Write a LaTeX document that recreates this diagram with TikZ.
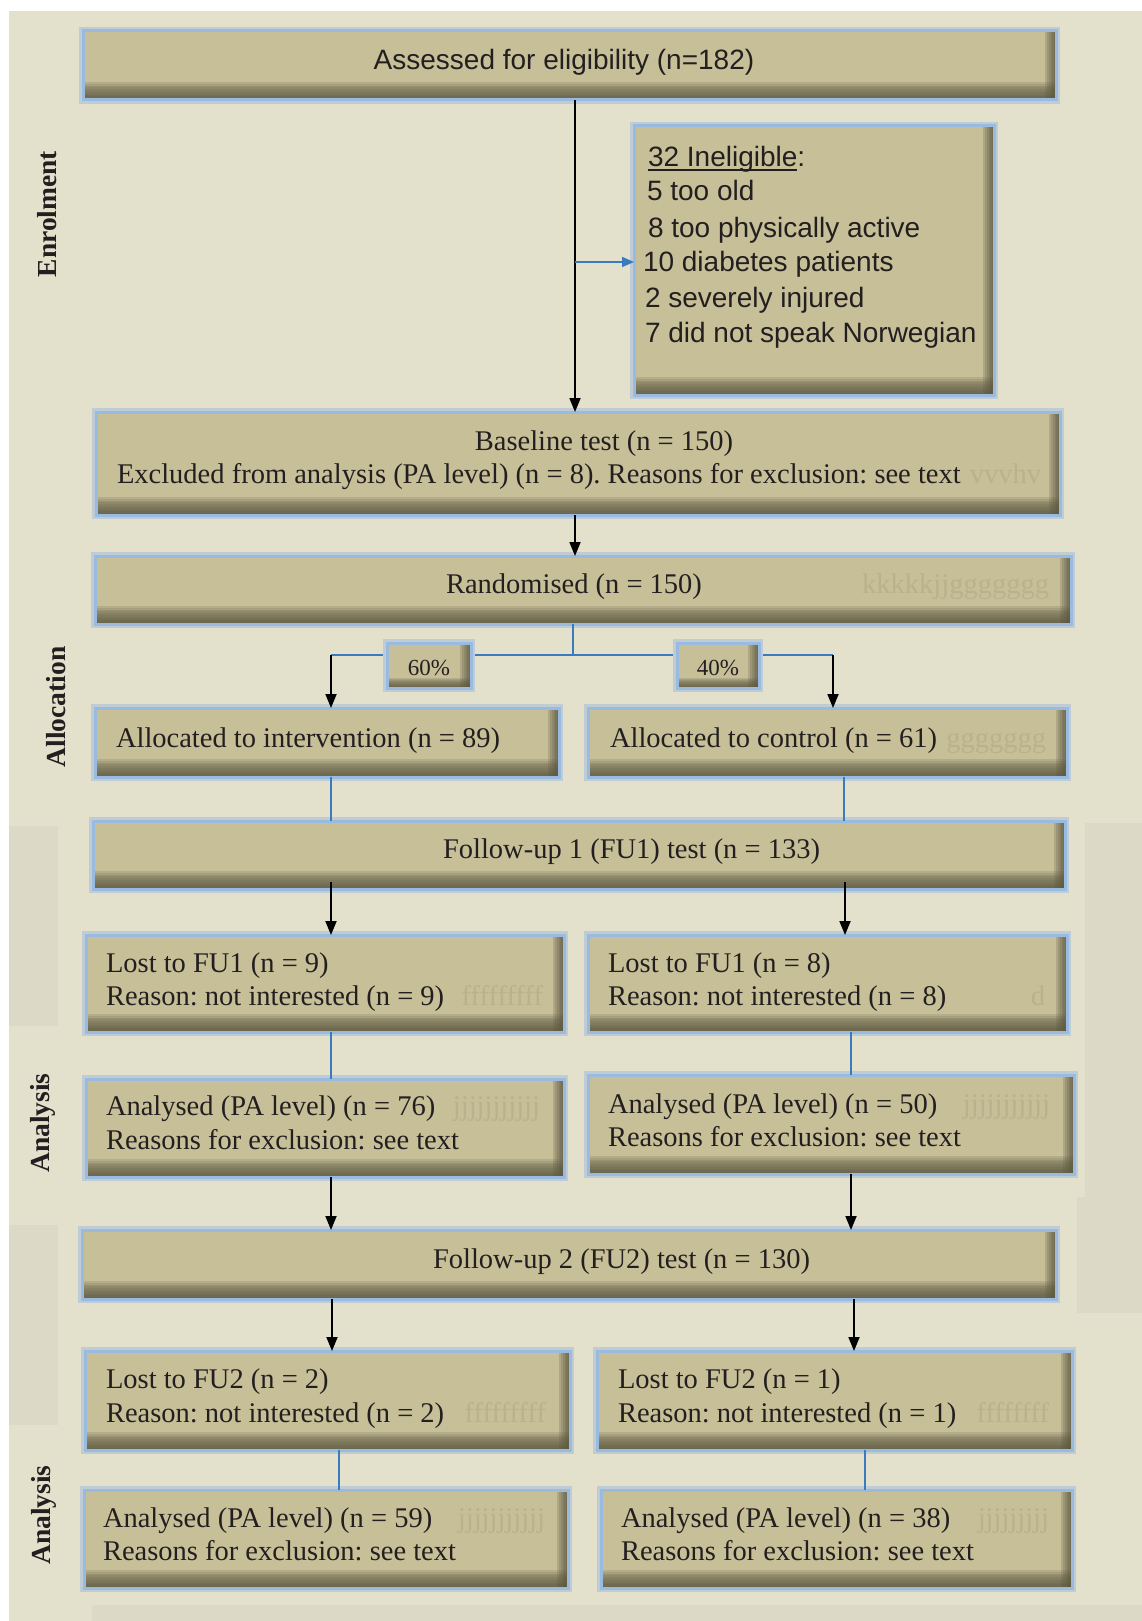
\documentclass[tikz,border=0pt]{standalone}
\usepackage{fontspec}
\setmainfont{Liberation Serif}
\newfontfamily\hsans{Liberation Sans}
\usetikzlibrary{arrows.meta}
\frenchspacing
\definecolor{bgc}{HTML}{E3E0CC}
\definecolor{panelc}{HTML}{DCD9C7}
\definecolor{boxfill}{HTML}{C7BF98}
\definecolor{shadowc}{HTML}{5E5A42}
\definecolor{glow}{HTML}{9ABBE0}
\definecolor{glowsoft}{HTML}{BFCCD6}
\definecolor{bline}{HTML}{3A7BC0}
\definecolor{ghost}{HTML}{BAB28C}
\definecolor{textc}{HTML}{231F20}
\newcommand\ulbox[1]{\setbox0\hbox{#1}\rlap{\rule[-4pt]{\wd0}{1.8pt}}\box0}
\tikzset{
  box/.style 2 args={rectangle, inner sep=0pt, outer sep=0pt, anchor=north west,
    fill=boxfill, draw=glow, line width=3pt,
    preaction={draw=glowsoft, line width=8pt},
    path picture={
      \foreach \k in {1,...,6}{
        \fill[shadowc, fill opacity=0.22]
          ([xshift=-\k*#2/6]path picture bounding box.north east) rectangle (path picture bounding box.south east);
      }
      \foreach \k in {1,...,10}{
        \fill[shadowc, fill opacity=0.17]
          ([yshift=\k*#1/10]path picture bounding box.south west) rectangle (path picture bounding box.south east);
      }
    }},
  txt/.style={inner sep=0pt, outer sep=0pt, text=textc, font=\frenchspacing\fontsize{28.5}{34}\selectfont},
  stxt/.style={inner sep=0pt, outer sep=0pt, text=textc, font=\hsans\fontsize{28}{34}\selectfont},
  gtxt/.style={inner sep=0pt, outer sep=0pt, text=ghost, font=\fontsize{28.5}{34}\selectfont, anchor=base east},
  side/.style={inner sep=0pt, outer sep=0pt, text=textc, rotate=90, font=\bfseries\fontsize{27.5}{30}\selectfont},
  arr/.style={draw=black, line width=1.8pt, -{Triangle[length=14pt,width=11pt]}},
  barr/.style={draw=bline, line width=1.6pt, -{Triangle[length=12pt,width=10pt]}},
  bl/.style={draw=bline, line width=1.4pt},
}
\newcommand\mkbox[6][18pt]{\node[box={#1}{11pt}, minimum width={(#4-#2)*1pt}, minimum height={(#5-#3)*1pt}] (#6) at (#2,#3) {};}
\begin{document}
\begin{tikzpicture}[x=1pt,y=-1pt]
\useasboundingbox (0,0) rectangle (1142,1621);
\fill[white] (0,0) rectangle (1142,1621);
\fill[bgc] (9,11) rectangle (1142,1621);
\fill[panelc] (9,826) rectangle (58,1026);
\fill[panelc] (9,1225) rectangle (58,1425);
\fill[panelc] (1085,823) rectangle (1142,1197);
\fill[panelc] (1077,1197) rectangle (1142,1313);
\fill[panelc] (92,1605) rectangle (1142,1621);

% boxes
\mkbox{83}{31}{1056}{100}{b1}
\mkbox{634}{126}{994}{395}{b2}
\mkbox{96}{412}{1060}{515}{b3}
\mkbox{95}{556}{1071}{624}{b4}
\mkbox{95}{708}{559}{777}{b5L}
\mkbox{588}{708}{1067}{777}{b5R}
\mkbox{93}{821}{1065}{889}{b6}
\mkbox{86}{935}{564}{1032}{b7L}
\mkbox{588}{935}{1067}{1032}{b7R}
\mkbox{86}{1079}{564}{1177}{b8L}
\mkbox{588}{1075}{1074}{1174}{b8R}
\mkbox{82}{1230}{1056}{1299}{b9}
\mkbox{85}{1351}{570}{1450}{b10L}
\mkbox{597}{1351}{1072}{1450}{b10R}
\mkbox{84}{1490}{568}{1588}{b11L}
\mkbox{601}{1490}{1072}{1588}{b11R}

% split lines (behind percentage boxes)
\coordinate (sp) at (573,655);
\coordinate (spl) at (331,655);
\coordinate (spr) at (833,655);
\draw[bl] (b4.south -| sp) -- (sp);
\draw[bl] (spl) -- (spr);
\mkbox[10pt]{387}{643}{471}{688}{p60}
\mkbox[10pt]{677}{643}{759}{688}{p40}
\draw[arr] (spl) -- (b5L.north -| spl);
\draw[arr] (spr) -- (b5R.north -| spr);

% connectors
\coordinate (xa) at (575,0);
\coordinate (j1) at (575,262);
\draw[arr] (b1.south -| xa) -- (b3.north -| xa);
\draw[barr] (j1) -- (j1 -| b2.west);
\draw[arr] (b3.south -| xa) -- (b4.north -| xa);

\coordinate (c1) at (331,0);
\coordinate (c2) at (844,0);
\coordinate (c3) at (845,0);
\coordinate (c4) at (851,0);
\coordinate (c5) at (332,0);
\coordinate (c6) at (854,0);
\coordinate (c7) at (339,0);
\coordinate (c8) at (865,0);
\draw[bl] (b5L.south -| c1) -- (b6.north -| c1);
\draw[bl] (b5R.south -| c2) -- (b6.north -| c2);
\draw[arr] ([yshift=7pt]b6.south -| c1) -- (b7L.north -| c1);
\draw[arr] ([yshift=7pt]b6.south -| c3) -- (b7R.north -| c3);
\draw[bl] (b7L.south -| c1) -- (b8L.north -| c1);
\draw[bl] (b7R.south -| c4) -- (b8R.north -| c4);
\draw[arr] (b8L.south -| c1) -- (b9.north -| c1);
\draw[arr] (b8R.south -| c4) -- (b9.north -| c4);
\draw[arr] (b9.south -| c5) -- (b10L.north -| c5);
\draw[arr] (b9.south -| c6) -- (b10R.north -| c6);
\draw[bl] (b10L.south -| c7) -- (b11L.north -| c7);
\draw[bl] (b10R.south -| c8) -- (b11R.north -| c8);

% texts
\node[stxt, anchor=base] (t1) at (564,70) {Assessed for eligibility (n=182)};
\node[stxt, anchor=base west] (t2a) at (648,167) {\ulbox{32 Ineligible}:};
\node[stxt, anchor=base west] (t2b) at (647,201) {5 too old};
\node[stxt, anchor=base west] (t2c) at (648,237) {8 too physically active};
\node[stxt, anchor=base west] (t2d) at (643,272) {10 diabetes patients};
\node[stxt, anchor=base west] (t2e) at (645,307) {2 severely injured};
\node[stxt, anchor=base west] (t2f) at (645,342) {7 did not speak Norwegian};

\node[txt, anchor=base] (t3a) at (604,450) {Baseline test (n = 150)};
\node[txt, anchor=base west] (t3b) at (117,483) {Excluded from analysis (PA level) (n = 8). Reasons for exclusion: see text};
\node[gtxt] (g3) at (1041,483) {vvvhv};

\node[txt, anchor=base] (t4) at (574,593) {Randomised (n = 150)};
\node[gtxt] (g4) at (1049,593) {kkkkkjjggggggg};

\node[txt, anchor=base, font=\fontsize{23}{26}\selectfont] (t60) at (429,675) {60\%};
\node[txt, anchor=base, font=\fontsize{23}{26}\selectfont] (t40) at (718,675) {40\%};

\node[txt, anchor=base west] (t5l) at (116,747) {Allocated to intervention (n = 89)};
\node[txt, anchor=base west] (t5r) at (610,747) {Allocated to control (n = 61)};
\node[gtxt] (g5r) at (1046,747) {ggggggg};

\node[txt, anchor=base west] (t6) at (443,858) {Follow-up 1 (FU1) test (n = 133)};

\node[txt, anchor=base west] (t7la) at (106,972) {Lost to FU1 (n = 9)};
\node[txt, anchor=base west] (t7lb) at (106,1005) {Reason: not interested (n = 9)};
\node[gtxt] (g7l) at (543,1005) {fffffffff};
\node[txt, anchor=base west] (t7ra) at (608,972) {Lost to FU1 (n = 8)};
\node[txt, anchor=base west] (t7rb) at (608,1005) {Reason: not interested (n = 8)};
\node[gtxt] (g7r) at (1045,1005) {d};

\node[txt, anchor=base west] (t8la) at (106,1115) {Analysed (PA level) (n = 76)};
\node[txt, anchor=base west] (t8lb) at (106,1149) {Reasons for exclusion: see text};
\node[gtxt] (g8l) at (540,1115) {jjjjjjjjjjj};
\node[txt, anchor=base west] (t8ra) at (608,1113) {Analysed (PA level) (n = 50)};
\node[txt, anchor=base west] (t8rb) at (608,1146) {Reasons for exclusion: see text};
\node[gtxt] (g8r) at (1050,1113) {jjjjjjjjjjj};

\node[txt, anchor=base west] (t9) at (433,1268) {Follow-up 2 (FU2) test (n = 130)};

\node[txt, anchor=base west] (t10la) at (106,1388) {Lost to FU2 (n = 2)};
\node[txt, anchor=base west] (t10lb) at (106,1422) {Reason: not interested (n = 2)};
\node[gtxt] (g10l) at (546,1422) {fffffffff};
\node[txt, anchor=base west] (t10ra) at (618,1388) {Lost to FU2 (n = 1)};
\node[txt, anchor=base west] (t10rb) at (618,1422) {Reason: not interested (n = 1)};
\node[gtxt] (g10r) at (1049,1422) {ffffffff};

\node[txt, anchor=base west] (t11la) at (103,1527) {Analysed (PA level) (n = 59)};
\node[txt, anchor=base west] (t11lb) at (103,1560) {Reasons for exclusion: see text};
\node[gtxt] (g11l) at (545,1527) {jjjjjjjjjjj};
\node[txt, anchor=base west] (t11ra) at (621,1527) {Analysed (PA level) (n = 38)};
\node[txt, anchor=base west] (t11rb) at (621,1560) {Reasons for exclusion: see text};
\node[gtxt] (g11r) at (1049,1527) {jjjjjjjjj};

% side labels
\node[side] (s1) at (47,214) {Enrolment};
\node[side] (s2) at (56,707) {Allocation};
\node[side] (s3) at (43,1123) {Analysis};
\node[side] (s4) at (44,1515) {Analysis};
\end{tikzpicture}
\end{document}
